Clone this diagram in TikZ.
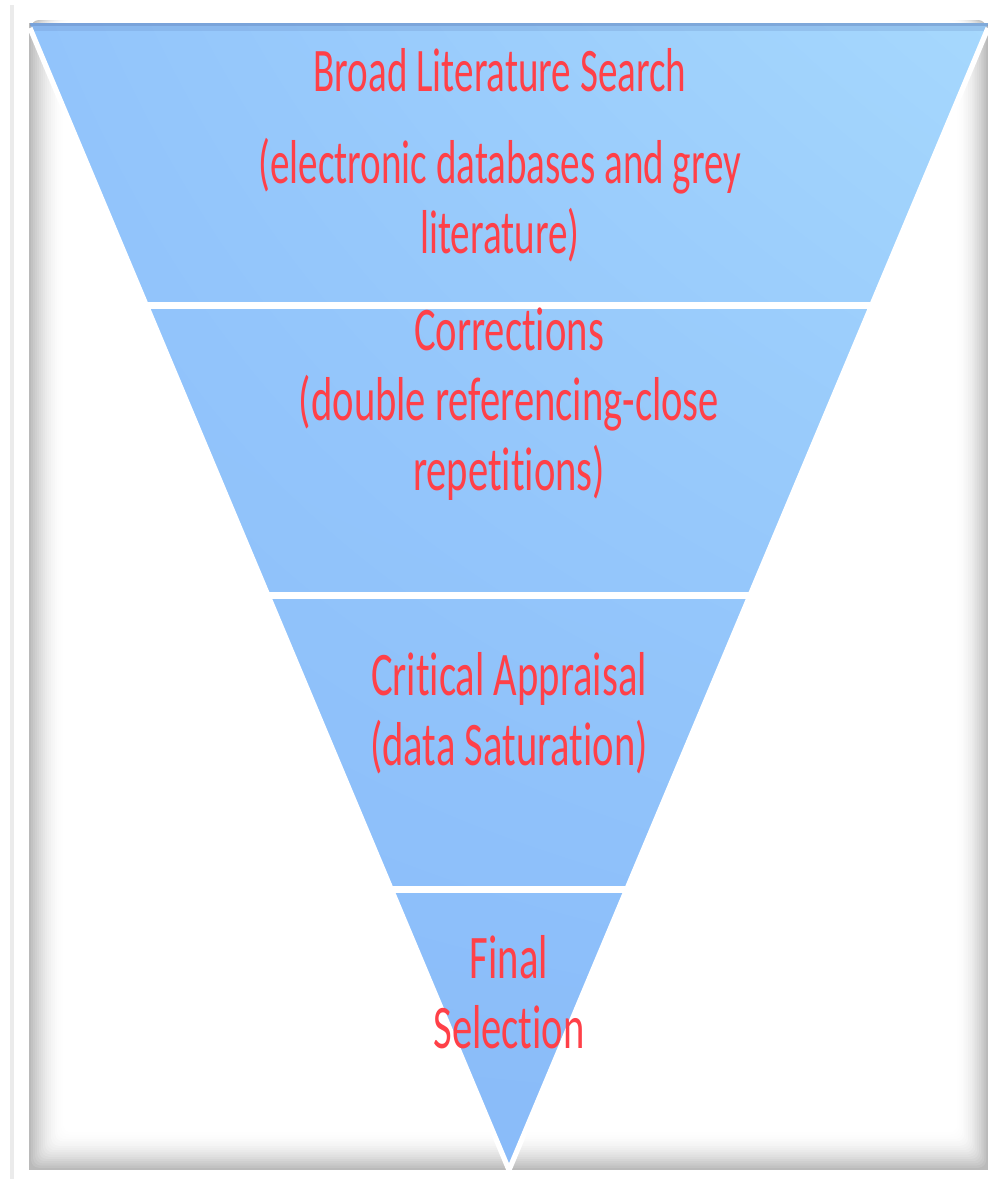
\documentclass[tikz,border=0pt]{standalone}
\usepackage{fontspec}
\usepackage{tikz}
\usetikzlibrary{calc, shadings}
\newfontfamily\funnelfont[FakeStretch=0.655, Ligatures=NoCommon]{Carlito}
\newfontfamily\broadfont[FakeStretch=0.63, Ligatures=NoCommon]{Carlito}
\definecolor{glassHi}{RGB}{166,216,253}
\definecolor{glassMid}{RGB}{146,196,251}
\definecolor{glassLo}{RGB}{137,187,249}
\definecolor{glassTop}{RGB}{104,140,196}
\definecolor{labelred}{RGB}{255,64,72}
\tikzset{
   funnel/.style = {shading=bilinear interpolation, upper right=glassHi, upper left=glassMid, lower left=glassLo, lower right=glassLo},
   rim/.style = {white, line width=2.6pt, line join=round},
   sepline/.style = {white, line width=3.5pt},
   stage/.style = {text=labelred, align=center, inner sep=0pt, font=\funnelfont\fontsize{31}{35}\selectfont}
}

\begin{document}
\begin{tikzpicture}[x=0.5pt, y=-0.5pt]
		\useasboundingbox (0,0) rectangle (997,1179);
		% Frame
		\draw[black!8, line width=2pt] (12,5) -- (12,1179);
		\fill[black!27] (29,23) rectangle (988,1170);
		\foreach \i [evaluate=\i as \g using {27*(1-\i/18)*(1-\i/18)}] in {1,...,18}
			\fill[black!\g, rounded corners=4pt] (29+2*\i,20) rectangle (988-1.8*\i,1170-2.2*\i);
		
		% Funnel
		\coordinate (tl) at (30,23);
		\coordinate (tr) at (988,23);
		\coordinate (apex) at (509,1170);
		\shade[funnel] (tl) -- (tr) -- (apex) -- cycle;
		\fill[glassTop, opacity=0.6] (tl) rectangle ($(tr)+(0,3)$);
		\fill[glassTop, opacity=0.25] ($(tl)+(0,3)$) rectangle ($(tr)+(0,8)$);
		\draw[rim] ($(tl)+(0,5)$) -- (apex) -- ($(tr)+(0,5)$);
		
		% Separators
		\foreach \t in {0.246,0.4995,0.755}
			\draw[sepline] ($(tl)!\t!(apex)$) -- ($(tr)!\t!(apex)$);
		
		% Labels (base = last line)
		\node[stage, font=\broadfont\fontsize{31}{35}\selectfont, anchor=base] (broad) at (500,253) {Broad Literature Search\\[11pt](electronic databases and grey\\literature)};
		\node[stage, anchor=base] (corr) at (509,490) {Corrections\\(double referencing-close\\repetitions)};
		\node[stage, anchor=base] (crit) at (509,765) {Critical Appraisal\\(data Saturation)};
		\node[stage, anchor=base] (final) at (509,1048) {Final\\Selection};
	\end{tikzpicture}
\end{document}
